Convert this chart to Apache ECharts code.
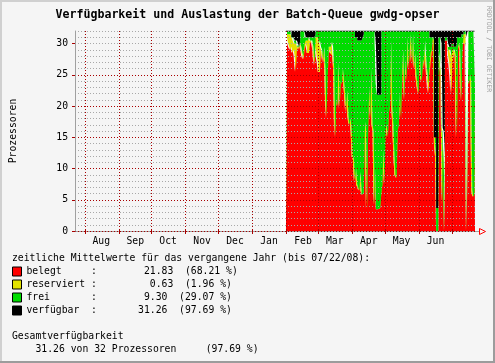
<!DOCTYPE html>
<html><head><meta charset="utf-8">
<script src="https://cdn.jsdelivr.net/npm/echarts@6/dist/echarts.min.js"></script>
<style>html,body{margin:0;padding:0;background:#f5f5f5}#c{width:495px;height:363px}</style>
</head><body><div id="c"></div>
<script>
const axisStart = '2007-07-23';
const axisEnd = '2008-07-22';
const dataStart = '2008-01-27';
const monthNames = ['Jan','Feb','Mar','Apr','May','Jun','Jul','Aug','Sep','Oct','Nov','Dec'];
const labelMonths = ['2007-08','2007-09','2007-10','2007-11','2007-12','2008-01','2008-02','2008-03','2008-04','2008-05','2008-06'];

const belegt = [0,0,0,0,0,
31,30,29.5,29,29.5,28.5,29,28,25.5,29,
29.5,29,30,29,28,27.5,29,30,29.5,28.5,
28.5,30,30.5,30,29,26.5,29.5,28,27,
25.5,25.5,29,28.5,27,29,25.5,18,24.5,28.5,29,
28.5,28.3,28,26,15,21,20,27,19.5,24,
23.5,26,24,22,19,22.5,18.5,17,18,16,
12,11.5,8,10,7.5,7,6.5,9,6.5,5.8,
6,16,17.5,3.5,16,23,18,26,17,16,
4.2,10,3.5,3.5,3.5,3.7,6,7.4,13,7.5,
16,17,15,19,20,30.5,20,17,12,9,
8.5,16,17,22,18,25,29,21,27.5,24,
31,26,29,31.5,27,31.5,26,28.5,25,23.5,
22,29.5,25,24,27.5,26,28.5,27,24.5,22,
25,27,28.5,31,30.5,14,12,0,0,27.7,
26,25,4.2,14,0,30.5,30.5,28,27,25,
22,27,28,29,28,14.9,29.5,30,29,20.8,
29,30,30,29.5,0,24,23.5,25,24,6.6,
5.5,6,23];

const reserviert = [0,0,0,0,0,
0.5,1.5,2,2.5,2,2.5,1.5,2,4.5,1,
0,0.5,0,0.5,0.5,0.5,1,0.5,1,2,
2.5,0.5,0,0.5,0.5,0.5,1,3,4,
4.5,5,0.5,0.5,0.5,0.5,0.5,0.5,0,0,0.5,
1,2,1.5,0,0,0,0,0,0.5,0,
0,0,0,0,0.5,0,0,0,0,0,
0,0,0,0,0,0,0,0.5,0,0,
0,0,0,0,0,0,0,0,0,0,
0,0,0,0,0,0,0,0,0,0,
0,0,0,0,0,0,0,0,0,0,
0,0,0,0,0,0,0,0,0,0,
0,0,0,0,0,0,0,0,0,0,
0,0,0,0,0,1,2,0.5,1,1.5,
1.5,1.5,0.5,0,0,0,0,0,0,1,
1,0,0,0,0,0,0,1,2,4,
6,2,1,0,0,0,0,0,0,0,
0,1,1.5,2,0,0,0,0,0,0,
0,0,0];

const frei = [0,0,0,0,0,
0.5,0.5,0.5,0.5,0.5,0,0.5,0.5,0.5,0.5,
0.5,0,0.5,2.5,3.5,4,2,0.5,0.5,0.5,
0,0.5,0.5,0.5,1.5,4,1,1,1,
2,1.5,2.5,3,4.5,2.5,6,13.5,7.5,3.5,2.5,
2.5,1.7,2.5,6,17,11,12,5,12,8,
8.5,6,8,10,12.5,9.5,13.5,15,14,16,
20,20.5,24,21,23.5,23.5,24,21,24,25.2,
25.5,16,14.5,28.5,16,9,14,6,15,16,
27.8,20,20,18.3,18.3,18,15.8,24.6,19,24.5,
16,15,17,13,12,1.5,12,15,20,23,
23.5,16,15,10,14,7,3,11,4.5,8,
1,6,3,0.5,5,0.5,6,3.5,7,8.5,
10,2.5,7,8,4.5,5,1.5,4.5,6.5,8.5,
5.5,2.5,2,0,0.5,1,3,3.7,3.7,2.3,
4,5,12.3,2,0,0.5,0.5,1,0.5,0.5,
1.5,1,1,0.5,1.5,15.1,1.5,1,2,10.2,
2.5,0.5,0.5,0.5,0,8,8.5,7,8,25.4,
26.5,26,9];

const unbekannt = [32,32,32,32,32,
0,0,0,0,0,0,0,0,0,0,
0,0,0,0,0,0,0,0,0,0,
0,0,0,0,0,0,0,0,0,
0,0,0,0,0,0,0,0,0,0,0,
0,0,0,0,0,0,0,0,0,0,
0,0,0,0,0,0,0,0,0,0,
0,0,0,0,0,0,0,0,0,0,
0,0,0,0,0,0,0,0,0,0,
0,0,0,0,0,0,0,0,0,0,
0,0,0,0,0,0,0,0,0,0,
0,0,0,0,0,0,0,0,0,0,
0,0,0,0,0,0,0,0,0,0,
0,0,0,0,0,0,0,0,0,0,
0,0,0,0,0,0,0,0,0,0,
0,0,0,0,12,0,0,0,0,0,
0,0,0,0,0,0,0,0,0,0,
0,0,0,0,31,0,0,0,0,0,
0,0,0];

const ausfall = [null,null,null,null,null,
0,0,0,0,0,1,1,1.5,1.5,1.5,
2,2.5,1.5,0,0,0,0,1,1,1,
1,1,1,1,1,1,0.5,0,0,
0,0,0,0,0,0,0,0,0,0,0,
0,0,0,0,0,0,0,0,0,0,
0,0,0,0,0,0,0,0,0,0,
0,0,0,1,1,1.5,1.5,1.5,1.5,1,
0.5,0,0,0,0,0,0,0,0,0,
0,2,8.5,10.2,10.2,10.3,10.2,0,0,0,
0,0,0,0,0,0,0,0,0,0,
0,0,0,0,0,0,0,0,0,0,
0,0,0,0,0,0,0,0,0,0,
0,0,0,0,0,0,0,0,0,0,
0,1,1,1,1,17,17,28.3,28.3,1,
1,2,15.5,16,20,1,1,2,2.5,2.5,
2.5,2,2,2.5,2.5,2,1,1,1,1,
0.5,0.5,0,0,1,0,0,0,0,0,
0,0,0];

const legendText = {
  'belegt':     'belegt     :        21.83  (68.21 %)',
  'reserviert': 'reserviert :         0.63  (1.96 %)',
  'frei':       'frei       :        9.30  (29.07 %)',
  'verfügbar':  'verfügbar  :       31.26  (97.69 %)'
};
const titleText = 'Verfügbarkeit und Auslastung der Batch-Queue gwdg-opser';
const headerText = 'zeitliche Mittelwerte für das vergangene Jahr (bis 07/22/08):';
const totalTitle = 'Gesamtverfügbarkeit';
const totalText = '    31.26 von 32 Prozessoren     (97.69 %)';

const mono = '"DejaVu Sans Mono", monospace';
const gridRed = '#a80000';
const gridGray = '#a8a8a8';

function buildCategories(start, end) {
  const out = [];
  let t = Date.parse(start + 'T00:00:00Z');
  const e = Date.parse(end + 'T00:00:00Z');
  while (t <= e) { out.push(new Date(t).toISOString().slice(0, 10)); t += 86400000; }
  return out;
}
const categories = buildCategories(axisStart, axisEnd);
const offset = categories.indexOf(dataStart);
function place(arr) {
  const out = new Array(categories.length).fill(null);
  arr.forEach((v, i) => { out[offset + i] = v; });
  return out;
}
const isMonthStart = (i, v) => v.slice(8) === '01';
const isLabelDay = (i, v) => v.slice(8) === '16' && labelMonths.indexOf(v.slice(0, 7)) >= 0;

function areaSeries(name, data, color, extra) {
  return Object.assign({
    name: name, type: 'line', data: place(data), stack: 'q', step: 'middle',
    symbol: 'none', showSymbol: false, lineStyle: { width: 0 },
    areaStyle: { color: color, opacity: 1 }, itemStyle: { color: color },
    emphasis: { disabled: true }, silent: true, z: 2
  }, extra || {});
}

const chart = echarts.init(document.getElementById('c'));
chart.setOption({
  animation: false,
  backgroundColor: '#f5f5f5',
  grid: { left: 75, top: 31, width: 400, height: 200, containLabel: false },
  xAxis: [{
    type: 'category', data: categories, boundaryGap: false, z: 4,
    axisLine: { show: true, lineStyle: { color: '#a0a0a0', width: 1 } },
    axisTick: { show: true, interval: isMonthStart, length: 3, lineStyle: { color: gridRed } },
    axisLabel: { interval: isLabelDay, margin: 5, fontFamily: mono, fontSize: 9.75, color: '#000',
      formatter: v => monthNames[parseInt(v.slice(5, 7), 10) - 1] },
    splitLine: { show: true, interval: isMonthStart, lineStyle: { color: gridRed, type: [1, 2], width: 1 } }
  }, {
    type: 'category', data: categories, boundaryGap: false, position: 'top', z: 4,
    axisLine: { show: false },
    axisTick: { show: true, interval: isMonthStart, length: 2, lineStyle: { color: gridRed } },
    axisLabel: { show: false }, splitLine: { show: false }
  }],
  yAxis: [{
    type: 'value', min: 0, max: 32, interval: 5, z: 5,
    name: 'Prozessoren', nameLocation: 'middle', nameRotate: 90, nameGap: 57,
    nameTextStyle: { fontFamily: mono, fontSize: 9.75, color: '#000' },
    axisLine: { show: true, lineStyle: { color: '#a0a0a0', width: 1 } },
    axisTick: { show: true, length: 3, lineStyle: { color: gridRed }, customValues: [0, 5, 10, 15, 20, 25, 30] },
    axisLabel: { margin: 7, fontFamily: mono, fontSize: 9.75, color: '#000', showMaxLabel: false },
    splitLine: { show: true, showMaxLine: false, lineStyle: { color: gridRed, type: [1, 2], width: 1 } }
  }, {
    type: 'value', min: 0, max: 32, interval: 1, z: 4, position: 'left',
    axisLine: { show: false }, axisTick: { show: false }, axisLabel: { show: false },
    splitLine: { show: true, lineStyle: { color: gridGray, type: [1, 2], width: 1 } }
  }],
  legend: {
    data: ['belegt', 'reserviert', 'frei', 'verfügbar'], orient: 'vertical',
    left: 12, top: 265, padding: 0, itemGap: 0, itemWidth: 9, itemHeight: 9, icon: 'rect',
    selectedMode: false, itemStyle: { borderColor: '#000', borderWidth: 1 },
    textStyle: { fontFamily: mono, fontSize: 9.75, color: '#000', lineHeight: 13 },
    formatter: n => legendText[n]
  },
  series: [
    areaSeries('belegt', belegt, '#ff0000'),
    areaSeries('reserviert', reserviert, '#e2e200'),
    areaSeries('frei', frei, '#00dc00'),
    areaSeries('unbekannt', unbekannt, '#ffffff'),
    areaSeries('verfügbar', ausfall, '#000000', { lineStyle: { width: 1, color: '#000000' } })
  ],
  graphic: [
    { type: 'rect', silent: true, shape: { x: 0, y: 0, width: 495, height: 2 }, style: { fill: '#d0d0d0' } },
    { type: 'rect', silent: true, shape: { x: 0, y: 0, width: 2, height: 363 }, style: { fill: '#d0d0d0' } },
    { type: 'rect', silent: true, shape: { x: 493, y: 0, width: 2, height: 363 }, style: { fill: '#9c9c9c' } },
    { type: 'rect', silent: true, shape: { x: 0, y: 361, width: 495, height: 2 }, style: { fill: '#9c9c9c' } },
    { type: 'text', silent: true, x: 247.5, y: 15, style: { text: titleText, align: 'center', verticalAlign: 'middle',
      fontFamily: mono, fontSize: 11.6, fontWeight: 'bold', fill: '#000' } },
    { type: 'text', silent: true, x: 489, y: 6, rotation: -Math.PI / 2, style: { text: 'RRDTOOL / TOBI OETIKER',
      align: 'left', verticalAlign: 'middle', fontFamily: mono, fontSize: 6.5, fill: '#a0a0a0' } },
    { type: 'polyline', silent: true, z: 10, shape: { points: [[475, 231.5], [479, 231.5]] }, style: { stroke: '#a0a0a0', lineWidth: 1 } },
    { type: 'polygon', silent: true, z: 10, shape: { points: [[479.5, 228.5], [485.5, 231.5], [479.5, 234.5]] }, style: { stroke: '#ff0000', fill: 'none', lineWidth: 1 } },
    { type: 'text', silent: true, x: 12, y: 258.5, style: { text: headerText, align: 'left', verticalAlign: 'middle',
      fontFamily: mono, fontSize: 9.75, fill: '#000' } },
    { type: 'text', silent: true, x: 12, y: 336.5, style: { text: totalTitle, align: 'left', verticalAlign: 'middle',
      fontFamily: mono, fontSize: 9.75, fill: '#000' } },
    { type: 'text', silent: true, x: 12, y: 349.5, style: { text: totalText, align: 'left', verticalAlign: 'middle',
      fontFamily: mono, fontSize: 9.75, fill: '#000' } }
  ]
});
</script>
</body></html>
